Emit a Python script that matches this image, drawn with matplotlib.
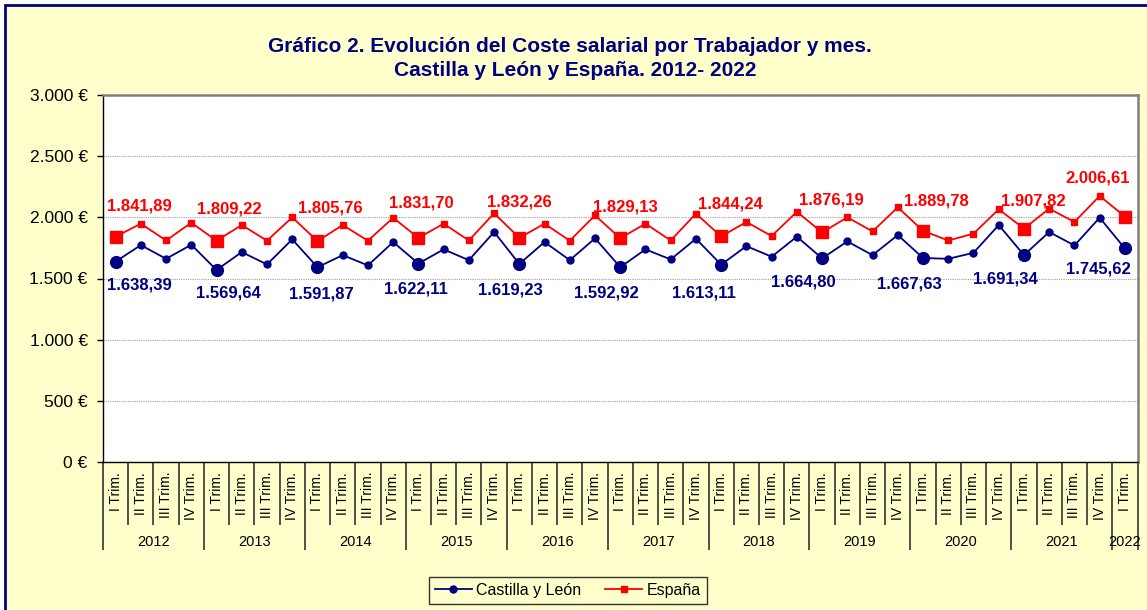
import matplotlib
matplotlib.use("Agg")
import matplotlib.pyplot as plt
from matplotlib.patches import Rectangle
from matplotlib.ticker import FuncFormatter, FixedLocator, MultipleLocator

# ---------------- data ----------------
years = ["2012", "2013", "2014", "2015", "2016", "2017", "2018", "2019", "2020", "2021", "2022"]
quarters = ["I Trim.", "II Trim.", "III Trim.", "IV Trim."]
n_quarters_per_year = [4, 4, 4, 4, 4, 4, 4, 4, 4, 4, 1]

castilla_leon = [
    1638.39, 1773, 1661, 1776,
    1569.64, 1716, 1615, 1820,
    1591.87, 1691, 1607, 1798,
    1622.11, 1738, 1650, 1880,
    1619.23, 1798, 1650, 1828,
    1592.92, 1738, 1656, 1825,
    1613.11, 1765, 1678, 1842,
    1664.80, 1803, 1691, 1855,
    1667.63, 1661, 1710, 1937,
    1691.34, 1880, 1770, 1997,
    1745.62,
]
espana = [
    1841.89, 1948, 1811, 1956,
    1809.22, 1937, 1809, 2000,
    1805.76, 1937, 1809, 1997,
    1831.70, 1948, 1811, 2033,
    1832.26, 1948, 1809, 2016,
    1829.13, 1948, 1811, 2030,
    1844.24, 1962, 1847, 2046,
    1876.19, 2000, 1885, 2082,
    1889.78, 1811, 1866, 2066,
    1907.82, 2071, 1962, 2175,
    2006.61,
]

# label offsets in pixels (style)
red_dx = [24, 13, 13, 3, 0, 5, 9, 9, 13, 9, -27]
red_dy = [31, 32, 33, 35, 36, 31, 32, 32, 30, 28, 39]
blue_dx = [24, 12, 4, -2, -9, -14, -17, -19, -14, -19, -27]
blue_dy = [23, 23, 27, 25, 26, 26, 28, 24, 26, 24, 21]

NAVY = "#000080"
RED = "#FF0000"
BG = "#FFFFCC"

plt.rcParams["font.family"] = ["Liberation Sans", "DejaVu Sans"]

W, H = 1147, 610
fig = plt.figure(figsize=(W / 100, H / 100), dpi=100, facecolor="white")

# chart area background with navy border
fig.patches.append(Rectangle((5 / W, -0.02), 1.05, 1 - 5 / H + 0.02, transform=fig.transFigure,
                             facecolor=BG, edgecolor=NAVY, linewidth=2.0, zorder=-10))

ax = fig.add_axes([103 / W, 1 - 462 / H, (1137.5 - 103) / W, (462 - 95) / H])
ax.set_facecolor("white")

# category positions
labels_x = []
for yi, nq in enumerate(n_quarters_per_year):
    for q in range(nq):
        labels_x.append(quarters[q])
x = list(range(len(labels_x)))

ax.plot(x, castilla_leon, color=NAVY, lw=1.3, marker="o", ms=5, zorder=3)
ax.plot(x, espana, color=RED, lw=1.3, marker="s", ms=4.5, zorder=3)

q1_idx = [i for i in x if labels_x[i] == quarters[0]]
ax.plot(q1_idx, [castilla_leon[i] for i in q1_idx], ls="none",
        marker="o", ms=8.5, color=NAVY, zorder=4)
ax.plot(q1_idx, [espana[i] for i in q1_idx], ls="none",
        marker="s", ms=8, color=RED, zorder=4)


def es_fmt(v, dec=2):
    s = f"{v:,.{dec}f}"
    return s.replace(",", "X").replace(".", ",").replace("X", ".")


for k, i in enumerate(q1_idx):
    ax.annotate(es_fmt(espana[i]), (i, espana[i]), xytext=(red_dx[k], red_dy[k]),
                textcoords="offset pixels", ha="center", va="center",
                color=RED, fontsize=12, fontweight="bold", zorder=5)
    ax.annotate(es_fmt(castilla_leon[i]), (i, castilla_leon[i]), xytext=(blue_dx[k], -blue_dy[k]),
                textcoords="offset pixels", ha="center", va="center",
                color=NAVY, fontsize=12, fontweight="bold", zorder=5)

ax.set_ylim(0, 3000)
ax.set_xlim(-0.5, len(x) - 0.5)
ax.yaxis.set_major_locator(MultipleLocator(500))
ax.yaxis.set_major_formatter(FuncFormatter(lambda v, p: es_fmt(v, 0) + " €"))
ax.grid(axis="y", color="#A0A0A0", lw=0.8, ls=(0, (1, 1)))
ax.set_axisbelow(True)
ax.tick_params(axis="y", direction="out", length=4, width=1, pad=7, labelsize=12.5, colors="black")

# x axis: separators as ticks
bounds = [i - 0.5 for i in x] + [len(x) - 0.5]
year_bounds = [-0.5]
acc = -0.5
for nq in n_quarters_per_year:
    acc += nq
    year_bounds.append(acc)
ax.xaxis.set_major_locator(FixedLocator(year_bounds))
ax.xaxis.set_minor_locator(FixedLocator(bounds))
ax.tick_params(axis="x", which="major", direction="out", length=63, width=1.2, color="#333333",
               labelbottom=False)
ax.tick_params(axis="x", which="minor", direction="out", length=45, width=1.2, color="#333333",
               labelbottom=False)

for i in x:
    ax.annotate(labels_x[i], (i, 0), xycoords=("data", "axes fraction"), xytext=(0, -10),
                textcoords="offset pixels", rotation=90, ha="center", va="top",
                fontsize=10, color="black")

start = 0
for yi, nq in enumerate(n_quarters_per_year):
    c = start + (nq - 1) / 2
    ax.annotate(years[yi], (c, 0), xycoords=("data", "axes fraction"), xytext=(0, -80),
                textcoords="offset pixels", ha="center", va="center", fontsize=10.5, color="black")
    start += nq

for side in ["top", "right"]:
    ax.spines[side].set_color("#808080")
    ax.spines[side].set_linewidth(1.8)
for side in ["left", "bottom"]:
    ax.spines[side].set_color("black")
    ax.spines[side].set_linewidth(1.0)

fig.text(570 / W, 1 - 46 / H, "Gráfico 2. Evolución del Coste salarial por Trabajador y mes.",
         ha="center", va="center", fontsize=15, fontweight="bold", color=NAVY)
fig.text(575 / W, 1 - 70 / H, "Castilla y León y España. 2012- 2022",
         ha="center", va="center", fontsize=15, fontweight="bold", color=NAVY)

h1, = ax.plot([], [], color=NAVY, lw=1.3, marker="o", ms=5)
h2, = ax.plot([], [], color=RED, lw=1.3, marker="s", ms=4.5)
leg = fig.legend([h1, h2], ["Castilla y León", "España"], loc="center",
                 bbox_to_anchor=(568 / W, 1 - 590.5 / H), ncol=2, fontsize=11.5,
                 frameon=True, fancybox=False, edgecolor="#333333", facecolor=BG,
                 framealpha=1, handlelength=2.3, handletextpad=0.3, columnspacing=1.5,
                 borderpad=0.35)
leg.get_frame().set_linewidth(1.0)

fig.savefig("out.png", dpi=100, facecolor=fig.get_facecolor())
